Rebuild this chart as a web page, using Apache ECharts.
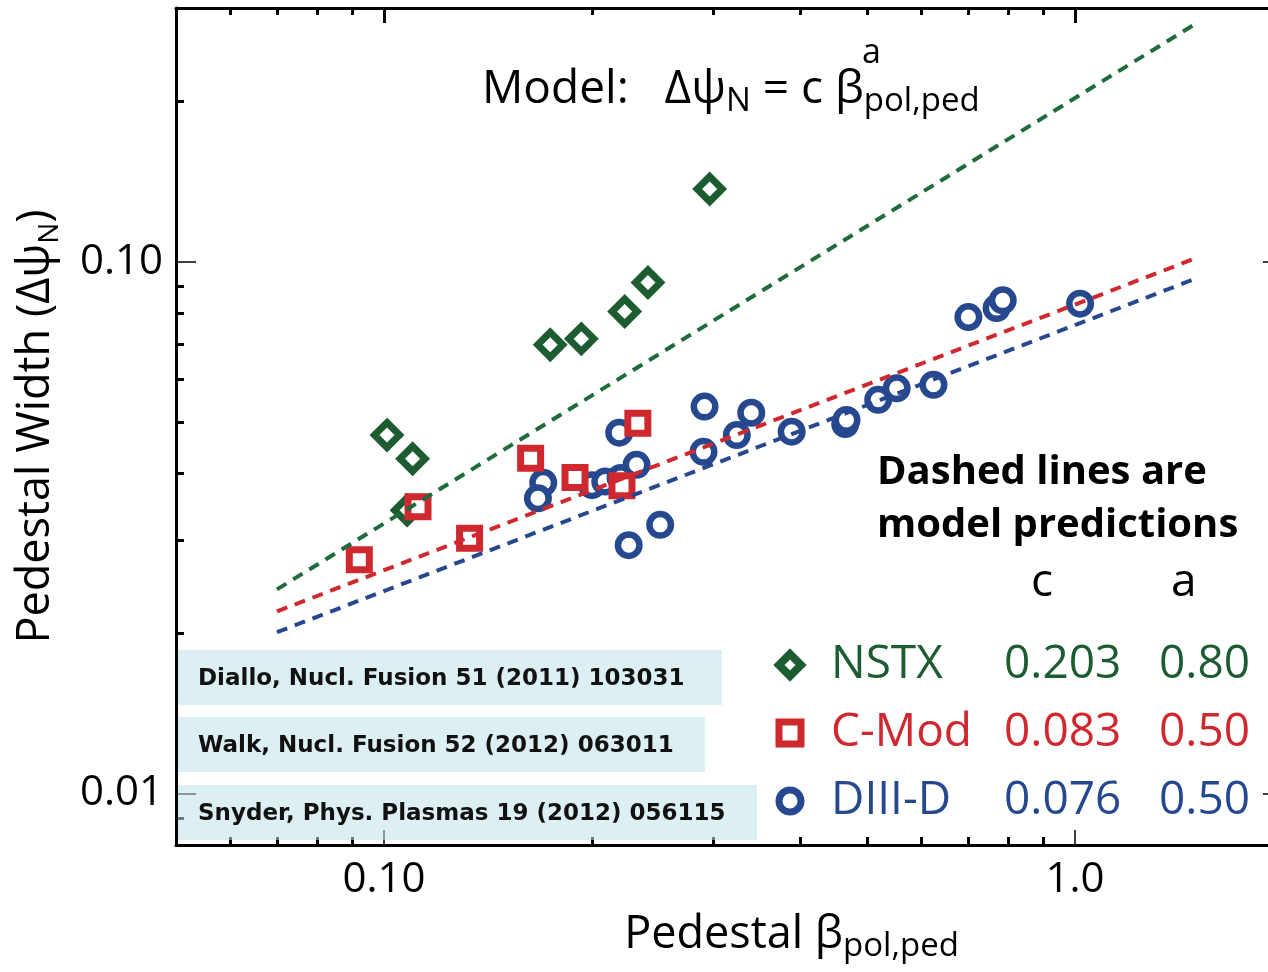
<!DOCTYPE html>
<html>
<head>
<meta charset="utf-8">
<script src="https://cdn.jsdelivr.net/npm/echarts@6/dist/echarts.min.js"></script>
<style>
  html, body { margin: 0; padding: 0; background: #fff; }
  #chart { width: 1268px; height: 972px; }
</style>
</head>
<body>
<div id="chart"></div>
<script>
// values (log-log)
var nstxBeta = [0.101, 0.110, 0.108, 0.174, 0.193, 0.223, 0.241, 0.296];
var nstxWidth = [0.0472, 0.0426, 0.0341, 0.0698, 0.0716, 0.0806, 0.0914, 0.137];
var cmodBeta = [0.0921, 0.112, 0.133, 0.163, 0.189, 0.221, 0.233];
var cmodWidth = [0.0275, 0.0346, 0.0302, 0.0427, 0.0393, 0.0379, 0.0497];
var d3dBeta = [0.170, 0.167, 0.200, 0.209, 0.220, 0.232, 0.219, 0.251, 0.226, 0.291, 0.290, 0.324,
  0.340, 0.389, 0.465, 0.467, 0.519, 0.552, 0.624, 0.701, 0.770, 0.786, 1.017];
var d3dWidth = [0.0384, 0.0359, 0.0380, 0.0386, 0.0392, 0.0415, 0.0477, 0.0320, 0.0293, 0.0534, 0.0439, 0.0472,
  0.0520, 0.0479, 0.0495, 0.0504, 0.0550, 0.0578, 0.0587, 0.0787, 0.0818, 0.0846, 0.0834];

// dashed model lines, end points
var fitBeta = [0.07, 1.5];
var nstxFit = [0.0242, 0.281];
var cmodFit = [0.0220, 0.1017];
var d3dFit = [0.0201, 0.0931];

var devices = ['NSTX', 'C-Mod', 'DIII-D'];
var fitC = ['0.203', '0.083', '0.076'];
var fitA = ['0.80', '0.50', '0.50'];

var xMajor = [0.1, 1];
var xMajorLabels = ['0.10', '1.0'];
var xMinor = [0.06, 0.07, 0.08, 0.09, 0.2, 0.3, 0.4, 0.5, 0.6, 0.7, 0.8, 0.9];
var yMajor = [0.01, 0.1];
var yMajorLabels = ['0.01', '0.10'];
var yMinor = [0.009, 0.02, 0.03, 0.04, 0.05, 0.06, 0.07, 0.08, 0.09, 0.2];

var refs = [
  'Diallo, Nucl. Fusion 51 (2011) 103031',
  'Walk, Nucl. Fusion 52 (2012) 063011',
  'Snyder, Phys. Plasmas 19 (2012) 056115'
];

var FONT = "'Open Sans', 'Noto Sans', sans-serif";
var GREEN = '#1c5c30';
var GREEN_LINE = '#1f6b3b';
var RED = '#d0282f';
var BLUE = '#26488f';
var colors = [GREEN, RED, BLUE];
var symbols = ['diamond', 'rect', 'circle'];

function pairs(xs, ys) {
  return xs.map(function (x, i) { return [x, ys[i]]; });
}

function pickLabel(vals, labels) {
  return function (v) {
    for (var i = 0; i < vals.length; i++) {
      if (Math.abs(v - vals[i]) / vals[i] < 1e-6) return labels[i];
    }
    return '';
  };
}

function logAxis(pos, min, max, ticks, len, width, showLine) {
  return {
    type: 'log',
    logBase: 10,
    position: pos,
    min: min,
    max: max,
    axisLine: { show: showLine, lineStyle: { color: '#000', width: 3 } },
    axisTick: { show: true, inside: true, length: len, customValues: ticks, lineStyle: { color: '#000', width: width } },
    axisLabel: { show: false },
    splitLine: { show: false },
    minorTick: { show: false }
  };
}

var X_MIN = 0.05, X_MAX = 2.0, Y_MIN = 0.008, Y_MAX = 0.3;

var xBottom = logAxis('bottom', X_MIN, X_MAX, xMajor, 15, 1.5, true);
xBottom.axisLabel = {
  show: true, customValues: xMajor, formatter: pickLabel(xMajor, xMajorLabels),
  fontFamily: FONT, fontSize: 42, color: '#000', margin: 14
};
xBottom.name = '{m|Pedestal β}{s|pol,ped}';
xBottom.nameLocation = 'middle';
xBottom.nameGap = 62;
xBottom.nameTextStyle = {
  padding: [0, 0, 0, 124],
  rich: {
    m: { fontFamily: FONT, fontSize: 45, lineHeight: 56, color: '#000' },
    s: { fontFamily: FONT, fontSize: 33, lineHeight: 30, verticalAlign: 'bottom', color: '#000' }
  }
};

var yLeft = logAxis('left', Y_MIN, Y_MAX, yMajor, 20, 1.5, true);
yLeft.axisLabel = {
  show: true, customValues: yMajor, formatter: pickLabel(yMajor, yMajorLabels),
  fontFamily: FONT, fontSize: 42, color: '#000', margin: 13
};
yLeft.name = '{m|Pedestal Width (Δψ}{s|N}{m|)}';
yLeft.nameLocation = 'middle';
yLeft.nameRotate = 90;
yLeft.nameGap = 112;
yLeft.nameTextStyle = {
  rich: {
    m: { fontFamily: FONT, fontSize: 45, lineHeight: 56, color: '#000' },
    s: { fontFamily: FONT, fontSize: 28, lineHeight: 30, verticalAlign: 'bottom', color: '#000' }
  }
};

var legendRich = {};
devices.forEach(function (d, i) {
  legendRich['n' + i] = { fontFamily: FONT, fontSize: 46, lineHeight: 56, color: colors[i], width: 173, padding: [0, 0, 0, 25] };
  legendRich['c' + i] = { fontFamily: FONT, fontSize: 46, lineHeight: 56, color: colors[i], width: 155 };
  legendRich['a' + i] = { fontFamily: FONT, fontSize: 46, lineHeight: 56, color: colors[i], width: 100 };
});

var graphics = [];
refs.forEach(function (r, i) {
  var boxW = [544, 527, 579][i];
  var top = [650, 717, 785][i];
  graphics.push({
    type: 'rect', z: 100,
    shape: { x: 178, y: top, width: boxW, height: 55 },
    style: { fill: 'rgba(192,225,231,0.55)' }
  });
  graphics.push({
    type: 'text', z: 101, x: 198, y: top + 29,
    style: { text: r, font: "bold 23px 'DejaVu Sans'", fill: '#111', textVerticalAlign: 'middle' }
  });
});
graphics.push({
  type: 'text', z: 101, left: 482, top: 67,
  style: {
    text: '{m|Model:   Δψ}{s|N}{m| = c β}{s|pol,ped}',
    rich: {
      m: { fontFamily: FONT, fontSize: 46, lineHeight: 56, fill: '#000' },
      s: { fontFamily: FONT, fontSize: 33, lineHeight: 30, verticalAlign: 'bottom', fill: '#000' }
    }
  }
});
graphics.push({
  type: 'text', z: 101, left: 862, top: 36,
  style: { text: 'a', font: "34px 'Open Sans'", fill: '#000' }
});
graphics.push({
  type: 'text', z: 101, left: 877, top: 446,
  style: { text: 'Dashed lines are\nmodel predictions', font: "bold 40px 'Open Sans'", lineHeight: 53, fill: '#000' }
});
graphics.push({
  type: 'text', z: 101, left: 1031, top: 555,
  style: { text: 'c', font: "46px 'Open Sans'", lineHeight: 56, fill: '#000' }
});
graphics.push({
  type: 'text', z: 101, left: 1171, top: 555,
  style: { text: 'a', font: "46px 'Open Sans'", lineHeight: 56, fill: '#000' }
});

function scatterSeries(i, xs, ys, size, bw, z) {
  return {
    name: devices[i],
    type: 'scatter',
    data: pairs(xs, ys),
    symbol: symbols[i],
    symbolSize: size,
    itemStyle: { color: '#fff', borderColor: colors[i], borderWidth: bw, opacity: 1 },
    z: z
  };
}

function fitSeries(color, ys) {
  return {
    type: 'line',
    data: pairs(fitBeta, ys),
    symbol: 'none',
    silent: true,
    lineStyle: { color: color, width: 4, type: [11, 8] },
    z: 6
  };
}

var chart = echarts.init(document.getElementById('chart'));
chart.setOption({
  animation: false,
  backgroundColor: '#fff',
  textStyle: { fontFamily: FONT },
  grid: { left: 176, right: -15, top: 8, bottom: 127, outerBoundsMode: 'none', containLabel: false },
  xAxis: [
    xBottom,
    logAxis('bottom', X_MIN, X_MAX, xMinor, 8, 3, false),
    logAxis('top', X_MIN, X_MAX, xMajor, 15, 3, true),
    logAxis('top', X_MIN, X_MAX, xMinor, 7, 3, false)
  ],
  yAxis: [
    yLeft,
    logAxis('left', Y_MIN, Y_MAX, yMinor, 8, 3, false),
    logAxis('right', Y_MIN, Y_MAX, yMajor, 20, 1.5, true),
    logAxis('right', Y_MIN, Y_MAX, yMinor, 8, 3, false)
  ],
  legend: {
    orient: 'vertical',
    left: 770,
    top: 632,
    itemWidth: 22,
    itemHeight: 22,
    itemGap: 12,
    selectedMode: false,
    data: devices.map(function (d, i) {
      return {
        name: d,
        icon: symbols[i],
        itemStyle: { color: '#fff', borderColor: colors[i], borderWidth: i === 0 ? 8 : 7 }
      };
    }),
    formatter: function (name) {
      var i = devices.indexOf(name);
      return '{n' + i + '|' + name + '}{c' + i + '|' + fitC[i] + '}{a' + i + '|' + fitA[i] + '}';
    },
    textStyle: { fontFamily: FONT, fontSize: 46, lineHeight: 56, rich: legendRich }
  },
  graphic: graphics,
  series: [
    scatterSeries(0, nstxBeta, nstxWidth, 25, 7, 2),
    scatterSeries(2, d3dBeta, d3dWidth, 21.5, 6.5, 3),
    scatterSeries(1, cmodBeta, cmodWidth, 20, 7, 4),
    fitSeries(GREEN_LINE, nstxFit),
    fitSeries(RED, cmodFit),
    fitSeries(BLUE, d3dFit)
  ]
});

window.addEventListener('resize', function () {
  chart.resize();
});
</script>
</body>
</html>
